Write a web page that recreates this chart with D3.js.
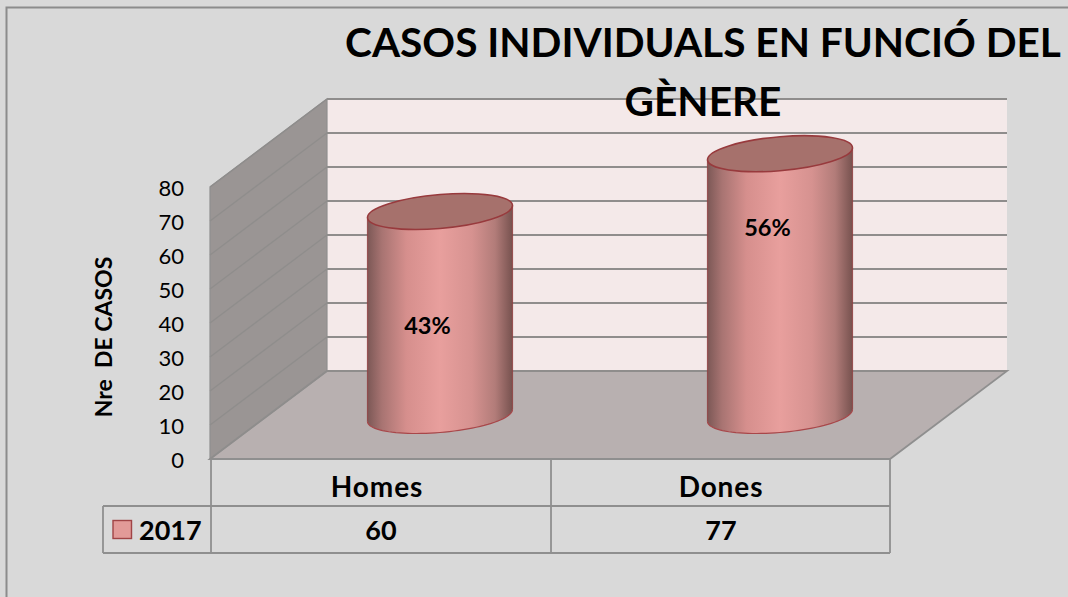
<!DOCTYPE html>
<html><head><meta charset="utf-8">
<script src="https://cdn.jsdelivr.net/npm/d3@7/dist/d3.min.js"></script>
<style>html,body{margin:0;padding:0;background:#d9d9d9;overflow:hidden}svg{display:block}text{font-family:Lato,sans-serif;fill:#000}</style>
</head><body><svg id="c" width="1068" height="597"></svg>
<script>
const categories = ["Homes", "Dones"];
const seriesName = "2017";
const values = [60, 77];
const percentLabels = ["43%", "56%"];
const percentLabelLevels = [26.6, 55.4];
const yTicks = [0,10,20,30,40,50,60,70,80];
const titleLines = ["CASOS INDIVIDUALS EN FUNCIÓ DEL", "GÈNERE"];
const yTitle = "Nre  DE CASOS";

const svg = d3.select("#c");
const depth = {x:117, y:-88};
const y = d3.scaleLinear().domain([0,80]).range([459,187]);
const x = d3.scaleBand().domain(categories).range([211,891]);
const rowY = [459,506,553];
const legendLeft = 103;
const midDepth = {x:0, y:-43.5};
const rx = 72.5, ry = 17, tilt = -4.7;
const catNudge = [-4, 0];
const cylX = c => x(c) + x.bandwidth()/2 + 59;

const defs = svg.append("defs");
const g = defs.append("linearGradient").attr("id","cyl");
[[0,"#7c5856"],[.1,"#a87472"],[.27,"#d68f8d"],[.5,"#e89f9d"],[.72,"#d69290"],[.88,"#b27c79"],[1,"#77524f"]]
  .forEach(s=>g.append("stop").attr("offset",s[0]).attr("stop-color",s[1]));

svg.append("path").attr("d","M6.5,597V7.5H1068").attr("fill","none").attr("stroke","#8c8c8c").attr("stroke-width",2);

const x0=210, x1=890, yTop=y(80), yBot=y(0), bx0=x0+depth.x, bx1=x1+depth.x;
svg.append("path").attr("d",`M${bx0},${yTop+depth.y}H${bx1}V${yBot+depth.y}H${bx0}Z`).attr("fill","#f4e9e9");
svg.append("path").attr("d",`M${x0},${yTop}L${bx0},${yTop+depth.y}V${yBot+depth.y}L${x0},${yBot}Z`).attr("fill","#9a9594").attr("stroke","#8f8f8f").attr("stroke-width",1.2);
svg.append("path").attr("d",`M${x0},${yBot}L${bx0},${yBot+depth.y}H${bx1}L${x1},${yBot}Z`).attr("fill","#b8b0b0").attr("stroke","#8f8f8f").attr("stroke-width",1.8);

const grid = svg.append("g").attr("fill","none").attr("stroke","#8f8d8c");
grid.selectAll(".side").data(yTicks).join("path").attr("class","side")
  .attr("d",d=>`M${x0},${y(d)}L${bx0},${y(d)+depth.y}`).attr("stroke-width",1.3);
grid.selectAll(".back").data(yTicks).join("path").attr("class","back")
  .attr("d",d=>`M${bx0},${y(d)+depth.y}H${bx1}`).attr("stroke-width",1.9);

const cyl = svg.append("g").selectAll("g").data(categories).join("g");
cyl.each(function(c,i){
  const s=d3.select(this), cx=cylX(c), base=y(0)+midDepth.y, topY=y(values[i])+midDepth.y;
  const dy=rx*Math.tan(tilt*Math.PI/180);
  const n=48;
  const body=d3.path();
  body.moveTo(cx-rx,topY-dy); body.lineTo(cx+rx,topY+dy); body.lineTo(cx+rx,base+dy);
  for(let k=0;k<=n;k++){const t=Math.PI*k/n;
    body.lineTo(cx+rx*Math.cos(t), base+dy*Math.cos(t)+ry*Math.sin(t));}
  body.closePath();
  s.append("path").attr("d",body.toString()).attr("fill","url(#cyl)");
  const bottomEdge=d3.path(); bottomEdge.moveTo(cx+rx,base+dy);
  for(let k=0;k<=n;k++){const t=Math.PI*k/n;
    bottomEdge.lineTo(cx+rx*Math.cos(t), base+dy*Math.cos(t)+ry*Math.sin(t));}
  s.append("path").attr("d",bottomEdge.toString()).attr("fill","none").attr("stroke","#a8474a").attr("stroke-width",1.2);
  s.append("path").attr("d",`M${cx-rx},${topY-dy}V${base-dy}M${cx+rx},${topY+dy}V${base+dy}`).attr("stroke","#8f3f40").attr("stroke-width",1.2).attr("stroke-opacity",.8);
  s.append("ellipse").attr("rx",rx).attr("ry",ry)
   .attr("transform",`translate(${cx},${topY}) skewY(${tilt})`)
   .attr("fill","#a6716c").attr("stroke","#983a3d").attr("stroke-width",1.6);
  s.append("text").attr("x",cx-12.5).attr("y",y(percentLabelLevels[i])+midDepth.y)
   .attr("text-anchor","middle").attr("dominant-baseline","central")
   .attr("font-size",23.5).attr("font-weight",700).text(percentLabels[i]);
});

const axis = svg.append("g").attr("transform","translate(186,1)")
  .call(d3.axisLeft(y).tickValues(yTicks).tickSize(0).tickPadding(2));
axis.select(".domain").remove();
axis.selectAll("text").attr("font-size",22).style("font-family","Lato,sans-serif").attr("fill","#000");
svg.append("text").attr("transform","translate(112,337) rotate(-90)").attr("text-anchor","middle")
  .attr("font-size",23).attr("font-weight",700).style("white-space","pre").text(yTitle);

const lines = svg.append("g").attr("stroke","#8f8f8f").attr("stroke-width",1.8).attr("fill","none");
lines.append("path").attr("d",`M${legendLeft},${rowY[1]}H${x1}M${legendLeft},${rowY[2]}H${x1}M${legendLeft},${rowY[1]}V${rowY[2]}`);
lines.selectAll(".v").data([x0+1,x(categories[1]),x1]).join("path").attr("class","v")
  .attr("d",d=>`M${d},${rowY[0]}V${rowY[2]}`);
svg.selectAll(".cat").data(categories).join("text").attr("class","cat")
  .attr("x",(c,i)=>x(c)+x.bandwidth()/2+catNudge[i]).attr("y",497).attr("text-anchor","middle")
  .attr("font-size",28).attr("letter-spacing",0.9).attr("font-weight",700).text(c=>c);
svg.selectAll(".val").data(values).join("text").attr("class","val")
  .attr("x",(d,i)=>x(categories[i])+x.bandwidth()/2).attr("y",540).attr("text-anchor","middle")
  .attr("font-size",27).attr("font-weight",700).text(d=>d);
svg.append("rect").attr("x",113).attr("y",520.5).attr("width",18.5).attr("height",18)
  .attr("fill","#e29a98").attr("stroke","#a04446").attr("stroke-width",1.4);
svg.append("text").attr("x",139).attr("y",540).attr("font-size",27).attr("font-weight",700).text(seriesName);

svg.selectAll(".title").data(titleLines).join("text").attr("class","title")
  .attr("x",703).attr("y",(d,i)=>i?116:57).attr("text-anchor","middle")
  .attr("font-size",40.6).attr("font-weight",700).text(d=>d);
</script></body></html>
